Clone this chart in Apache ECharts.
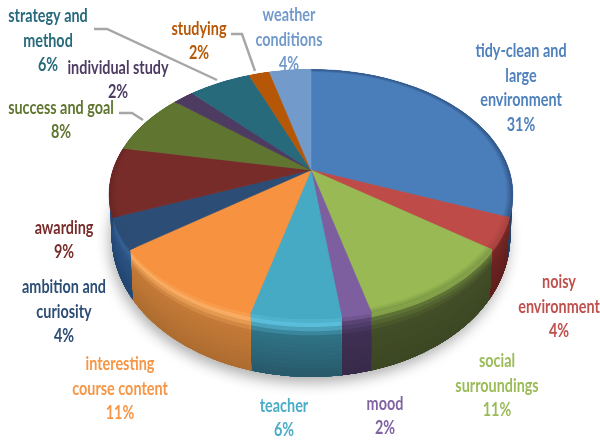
<!DOCTYPE html>
<html><head><meta charset="utf-8">
<style>html,body{margin:0;padding:0;background:#fff}#c{width:600px;height:441px}#c canvas{filter:blur(.45px)}</style>
<script src="https://cdn.jsdelivr.net/npm/echarts@6/dist/echarts.min.js"></script>
</head><body><div id="c"></div>
<script>
const categories=['tidy-clean and\nlarge\nenvironment','noisy\nenvironment','social\nsurroundings','mood','teacher','interesting\ncourse content','ambition and\ncuriosity','awarding','success and goal','individual study','strategy and\nmethod','studying','weather\nconditions'];
const values=[31,4,11,2,6,11,4,9,8,2,6,2,4];
const faceColors=['#4A7EBB','#BE4B48','#98B954','#7D5FA0','#46AAC5','#F69240','#2C4D75','#772C2A','#5F7530','#4D3B62','#276A7C','#B65708','#729ACA'];
const rimColors=['#34598A','#A94442','#7F9C46','#7D5FA0','#46AAC5','#F69240','#2C4D75','#6A2725','#5F7530','#4D3B62','#276A7C','#B65708','#729ACA'];
const wallHi=['#2F4D75','#7A2826','#5E7335','#5A4476','#5CC0DC','#FBAE62','#356296','#6A2725','#5F7530','#4D3B62','#276A7C','#B65708','#729ACA'];
const wallMid=['#2B4568','#6E2422','#424E28','#3F3053','#2F7386','#C47A38','#2B5283','#2B5283','#5F7530','#4D3B62','#276A7C','#B65708','#729ACA'];
const wallLow=['#283F5F','#5E1F1D','#3C4723','#382A4A','#28596A','#AD6C30','#234670','#234670','#5F7530','#4D3B62','#276A7C','#B65708','#729ACA'];
const labelColors=['#4F81BD','#C0504D','#9BBB59','#8064A2','#4BACC6','#F79646','#2C4D75','#772C2A','#5F7530','#4D3B62','#276A7C','#B65708','#729ACA'];
const labelCenters=[[521,88],[559,307],[497,386],[385,416],[284,418],[120,389],[64,312],[64,240],[61,120],[118,80],[48,41],[199,41],[289,40]];
const leaders=[[[94,29],[107,29],[217,80]],[[231,34],[242,34],[255,71]],[[119,113],[132,113],[143,120]]];

const R=198,K=0.1935,A=120,APEX=[311,170];
function proj(deg,t){
  const r=deg*Math.PI/180,s=Math.sin(r),z=-Math.cos(r),d=1-K*z;
  const x=R*s/d,y=A*z/d;
  return [x*(1-0.012*t),y+t*(37+21*z)];
}
function projIn(deg,f){
  const r=deg*Math.PI/180,s=Math.sin(r)*f,z=-Math.cos(r)*f,d=1-K*z;
  return [R*s/d,A*z/d];
}
function arc(a,b,f){const n=Math.max(2,Math.ceil(Math.abs(b-a)/2)),o=[];for(let i=0;i<=n;i++)o.push(f(a+(b-a)*i/n));return o;}
function hex(c){return [1,3,5].map(i=>parseInt(c.substr(i,2),16));}
function mix(a,b,t){const x=hex(a),y=hex(b);return 'rgb('+x.map((v,i)=>Math.round(v+(y[i]-v)*t)).join(',')+')';}
function wallColor(i,t){
  if(t<0.1)return mix(faceColors[i],wallHi[i],t/0.1);
  if(t<0.3)return mix(wallHi[i],wallMid[i],(t-0.1)/0.2);
  return mix(wallMid[i],wallLow[i],(t-0.3)/0.7);
}
const total=values.reduce((a,b)=>a+b,0);
let acc=0;
const sliceData=values.map(v=>{const row=[v,acc];acc+=v;return row;});
const deg=p=>p/total*360;

function poly(api,pts,fill,extra){
  const P=pts.map(p=>api.coord(p));
  return {type:'polygon',shape:{points:P},style:Object.assign({fill,stroke:fill,lineWidth:0.6},extra||{})};
}
const option={
  animation:false,
  backgroundColor:'#fff',
  grid:{left:0,right:0,top:0,bottom:0},
  xAxis:{type:'value',min:-APEX[0],max:600-APEX[0],show:false},
  yAxis:{type:'value',min:-APEX[1],max:441-APEX[1],inverse:true,show:false},
  series:[
    {type:'custom',name:'shadow',silent:true,clip:false,z:1,data:[[0,0]],
      renderItem(params,api){
        const pts=arc(0,360,d=>proj(d,1));
        return {type:'polygon',shape:{points:pts.map(p=>api.coord(p))},
          style:{fill:'#999',shadowColor:'rgba(0,0,0,0.32)',shadowBlur:14,shadowOffsetX:-2,shadowOffsetY:6}};
      }},
    {type:'custom',name:'walls',silent:true,clip:false,z:2,data:sliceData,
      renderItem(params,api){
        const i=params.dataIndex,a=Math.max(deg(api.value(1)),88),b=Math.min(deg(api.value(1)+api.value(0)),272);
        if(b<=a)return {type:'group',children:[]};
        const ch=[],N=14;
        const lo=arc(a,b,d=>proj(d,1)).reverse();
        for(let k=0;k<N;k++){
          const t0=k/N,t1=(k+1)/N;
          const up=arc(a,b,d=>proj(d,t0));
          const c=wallColor(i,(t0+t1)/2);
          ch.push({type:'polygon',shape:{points:up.concat(lo).map(p=>api.coord(p))},style:{fill:c}});
        }
        return {type:'group',children:ch};
      }},
    {type:'custom',name:'faces',silent:true,clip:false,z:3,data:sliceData,
      renderItem(params,api){
        const i=params.dataIndex,a=deg(api.value(1)),b=deg(api.value(1)+api.value(0));
        const ch=[poly(api,[[0,0]].concat(arc(a,b,d=>projIn(d,1))),faceColors[i])];
        const N=4;
        for(let k=0;k<N;k++){
          const f0=0.97+0.03*k/N;
          const up=arc(a,b,d=>projIn(d,f0)),lo=arc(a,b,d=>projIn(d,1)).reverse();
          ch.push({type:'polygon',shape:{points:up.concat(lo).map(p=>api.coord(p))},style:{fill:mix(faceColors[i],rimColors[i],(k+1)/N)}});
        }
        return {type:'group',children:ch};
      }},
    {type:'custom',name:'leaders',silent:true,clip:false,z:4,data:leaders.map((l,i)=>[i,0]),
      renderItem(params,api){
        const l=leaders[params.dataIndex].map(p=>api.coord([p[0]-APEX[0],p[1]-APEX[1]]));
        return {type:'polyline',shape:{points:l},style:{fill:'none',stroke:'#A6A6A6',lineWidth:2.4}};
      }},
    {type:'custom',name:'labels',silent:true,clip:false,z:5,data:values.map((v,i)=>[v,i]),
      renderItem(params,api){
        const i=params.dataIndex,c=labelCenters[i],p=api.coord([c[0]-APEX[0],c[1]-APEX[1]]);
        return {type:'text',x:p[0],y:p[1],scaleX:0.8,style:{text:categories[i]+'\n'+api.value(0)+'%',x:0,y:0,align:'center',verticalAlign:'middle',
          fill:labelColors[i],font:'bold 18px Lato',lineHeight:24.5}};
      }}
  ]
};
echarts.init(document.getElementById('c')).setOption(option);
</script></body></html>
